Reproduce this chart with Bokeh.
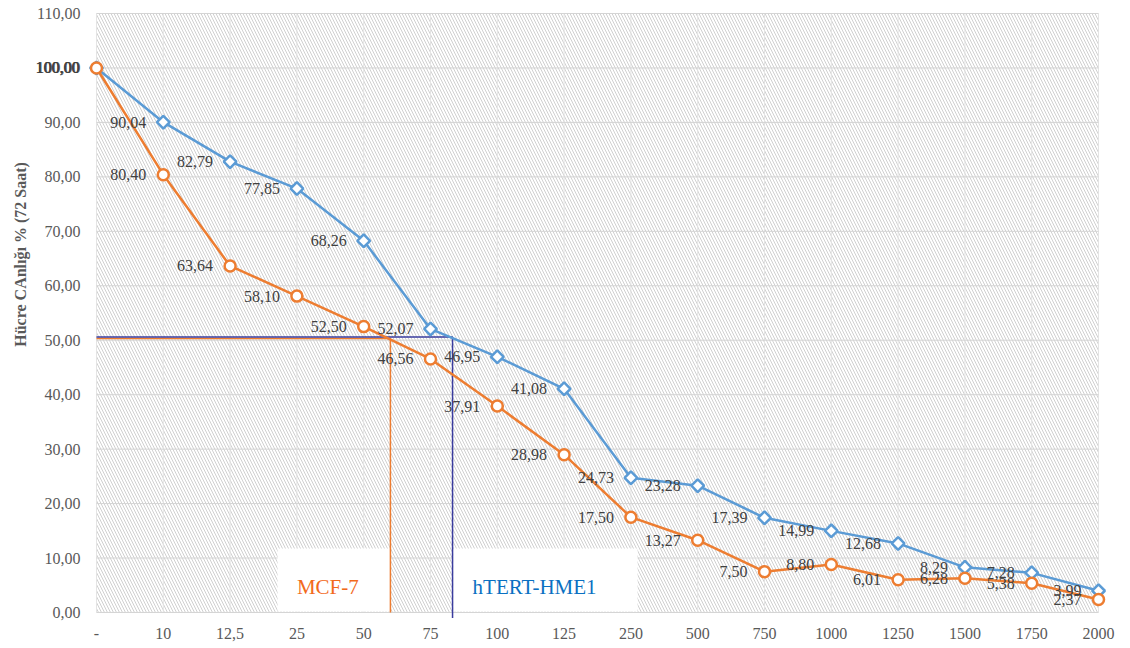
import math
from bokeh.plotting import figure
from bokeh.models import ColumnDataSource, LabelSet, Label, BoxAnnotation, Range1d
from bokeh.embed import file_html
from bokeh.resources import INLINE

# ---- data ----
categories = ["-", "10", "12,5", "25", "50", "75", "100", "125", "250", "500",
              "750", "1000", "1250", "1500", "1750", "2000"]
htert_hme1 = [100.00, 90.04, 82.79, 77.85, 68.26, 52.07, 46.95, 41.08, 24.73,
              23.28, 17.39, 14.99, 12.68, 8.29, 7.28, 3.99]
mcf7 = [100.00, 80.40, 63.64, 58.10, 52.50, 46.56, 37.91, 28.98, 17.50,
        13.27, 7.50, 8.80, 6.01, 6.28, 5.38, 2.37]
y_ticks = [0, 10, 20, 30, 40, 50, 60, 70, 80, 90, 100, 110]
# IC50 reading (category-index position, viability level)
ic50_mcf7 = (4.40, 50.3)
ic50_htert = (5.33, 50.6)
y_title = "Hücre CAnlığı % (72 Saat)"
legend_names = ["MCF-7", "hTERT-HME1"]


def fmt(v):
    return f"{v:.2f}".replace(".", ",")


idx = list(range(len(categories)))
n_last = idx[-1]
y_max = y_ticks[-1]

BLUE = "#5B9BD5"
ORANGE = "#ED7D31"
NAVY = "#3A3C9E"
SERIF = "Liberation Serif"

# frame covers the whole canvas so that no text is clipped
p = figure(width=1124, height=644, output_backend="svg", toolbar_location=None,
           x_range=Range1d(-1.437, 15.389), y_range=Range1d(-5.88, 112.39),
           min_border=0)
p.axis.visible = False
p.grid.visible = False
p.outline_line_color = None
p.background_fill_color = "white"
p.border_fill_color = "white"

# hatched plot area
p.add_layout(BoxAnnotation(left=0, right=n_last, bottom=0, top=y_max, fill_alpha=0,
                           line_color=None, hatch_pattern="\\", hatch_color="#d0d0d0",
                           hatch_weight=1, hatch_scale=6, level="image"))

# grid lines
p.segment(x0=idx, x1=idx, y0=[0] * len(idx), y1=[y_max] * len(idx),
          line_color="#e4e4e4", line_width=1)
p.segment(x0=[0] * len(y_ticks), x1=[n_last] * len(y_ticks), y0=y_ticks, y1=y_ticks,
          line_color="#d4d4d4", line_width=1)

# tick labels
tick_src = ColumnDataSource(dict(y=y_ticks, x=[0] * len(y_ticks),
                                 lbl=[fmt(t) for t in y_ticks]))
p.add_layout(LabelSet(x="x", y="y", text="lbl", source=tick_src, x_offset=-16,
                      text_align="right", text_baseline="middle", text_font=SERIF,
                      text_font_size="16px", text_color="#595959"))
cat_src = ColumnDataSource(dict(x=idx, y=[-3.86] * len(idx), lbl=categories))
p.add_layout(LabelSet(x="x", y="y", text="lbl", source=cat_src,
                      text_align="center", text_baseline="middle", text_font=SERIF,
                      text_font_size="16px", text_color="#595959"))

# legend boxes (white text boxes)
p.quad(left=[2.71, 5.34], right=[4.40, 8.10], bottom=[0.18, 0.18], top=[11.75, 11.75],
       fill_color="white", line_color=None)

# IC50 guide lines
p.line(x=[0, ic50_mcf7[0], ic50_mcf7[0]], y=[ic50_mcf7[1], ic50_mcf7[1], 0],
       line_color=ORANGE, line_width=1.5)
p.line(x=[0, ic50_htert[0], ic50_htert[0]], y=[ic50_htert[1], ic50_htert[1], -1],
       line_color=NAVY, line_width=1.5)

src = ColumnDataSource(dict(x=idx, blue=htert_hme1, orange=mcf7,
                            blue_lbl=[fmt(v) for v in htert_hme1],
                            orange_lbl=[fmt(v) for v in mcf7]))

p.line("x", "blue", source=src, line_color=BLUE, line_width=2.5)
p.scatter("x", "blue", source=src, marker="square", angle=math.pi / 4, size=9,
          fill_color="white", line_color=BLUE, line_width=2.5)
p.line("x", "orange", source=src, line_color=ORANGE, line_width=2.5)
p.scatter("x", "orange", source=src, marker="circle", size=11,
          fill_color="white", line_color=ORANGE, line_width=2.5)

for col in ("blue", "orange"):
    p.add_layout(LabelSet(x="x", y=col, text=col + "_lbl", source=src,
                          x_offset=-17, text_align="right", text_baseline="middle",
                          text_font=SERIF, text_font_size="16px", text_color="#404040"))

# y-axis title
p.add_layout(Label(x=-1.138, y=65.75, text=y_title, angle=math.pi / 2,
                   text_align="center", text_baseline="middle", text_font=SERIF,
                   text_font_size="16px", text_font_style="bold", text_color="#595959"))

# legend texts
p.add_layout(Label(x=3.0, y=4.59, text=legend_names[0], text_align="left",
                   text_baseline="middle", text_font=SERIF, text_font_size="21px",
                   text_color="#F26A1B"))
p.add_layout(Label(x=5.63, y=4.59, text=legend_names[1], text_align="left",
                   text_baseline="middle", text_font=SERIF, text_font_size="21px",
                   text_color="#0A70C2"))

open("out.html", "w").write(file_html(p, INLINE))
